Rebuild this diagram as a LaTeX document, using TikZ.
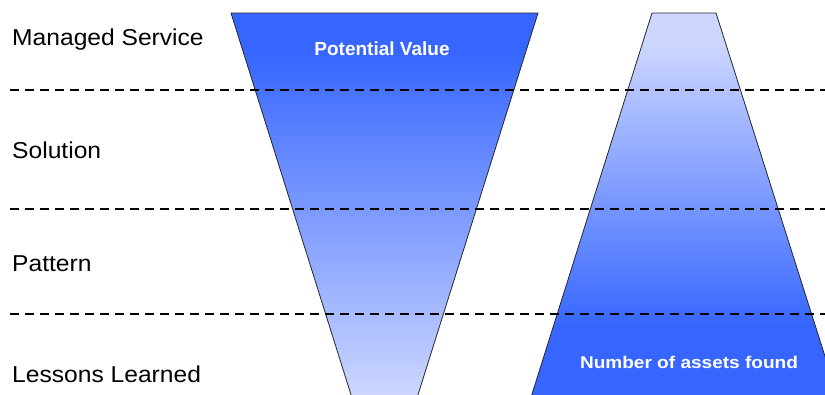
\documentclass[tikz,border=0pt]{standalone}
\usepackage{fontspec}
\setmainfont{Liberation Sans}
\newfontfamily\lblfont[FakeStretch=1.07]{Liberation Sans}
\newfontfamily\boxfont[FakeStretch=1.12]{Liberation Sans}
\definecolor{darkblue}{RGB}{54,102,255}
\definecolor{lightblue}{RGB}{204,214,255}
\pgfdeclareverticalshading{downfade}{100bp}{color(0bp)=(lightblue); color(25bp)=(lightblue); color(70bp)=(darkblue); color(100bp)=(darkblue)}
\pgfdeclareverticalshading{upfade}{100bp}{color(0bp)=(darkblue); color(34bp)=(darkblue); color(71bp)=(lightblue); color(100bp)=(lightblue)}
\tikzset{
  funnel/.style={draw=black!85, line width=0.8pt, line join=round},
  sepline/.style={line width=1.6pt, dash pattern=on 9pt off 6pt},
  rowlabel/.style={anchor=base west, inner sep=0pt, font=\lblfont\fontsize{23}{27}\selectfont},
  boxlabel/.style={anchor=base, inner sep=0pt, text=white, font=\bfseries},
}
\begin{document}
\begin{tikzpicture}[x=1pt,y=-1pt]
\useasboundingbox (0,0) rectangle (825,394);
% funnels
\path[funnel, shading=downfade] (231,13) -- (538,13) -- (417.6,396) -- (351.4,396) -- cycle;
\path[funnel, shading=upfade] (652,13) -- (716,13) -- (837.6,396) -- (531.4,396) -- cycle;
% separators
\draw[sepline] (10,90) -- (825,90);
\draw[sepline] (10,209) -- (825,209);
\draw[sepline] (10,314) -- (825,314);
% labels
\node[rowlabel] (ms) at (12,45.5) {Managed Service};
\node[rowlabel] (sol) at (12,158) {Solution};
\node[rowlabel] (pat) at (12,271) {Pattern};
\node[rowlabel] (ll) at (12,382) {Lessons Learned};
\node[boxlabel, font=\bfseries\fontsize{19}{22}\selectfont] (pv) at (382,55) {Potential Value};
\node[boxlabel, font=\boxfont\bfseries\fontsize{17}{20}\selectfont] (na) at (689,368.5) {Number of assets found};
\end{tikzpicture}
\end{document}
